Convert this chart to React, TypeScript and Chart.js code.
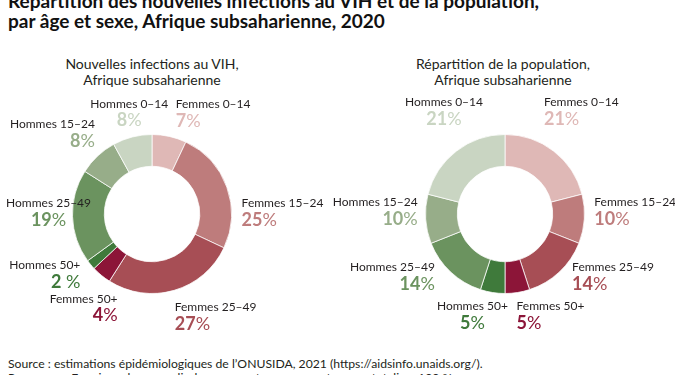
import React, { useEffect, useRef } from "react";
import { Chart, registerables } from "chart.js";

Chart.register(...registerables);

const categories = [
  "Femmes 0–14",
  "Femmes 15–24",
  "Femmes 25–49",
  "Femmes 50+",
  "Hommes 50+",
  "Hommes 25–49",
  "Hommes 15–24",
  "Hommes 0–14",
];
const infectionsValues = [7, 25, 27, 4, 2, 19, 8, 8];
const populationValues = [21, 10, 14, 5, 5, 14, 10, 21];
const infectionsPctLabels = ["7%", "25%", "27%", "4%", "2 %", "19%", "8%", "8%"];
const populationPctLabels = ["21%", "10%", "14%", "5%", "5%", "14%", "10%", "21%"];
const sliceColors = ["#dfb8b6", "#be7c7c", "#a74e55", "#8c1538", "#3f7a3b", "#6b935f", "#97ad89", "#c9d5c2"];

// label layout (alignment + nudges relative to arc mid-angle anchor)
const infectionsAlign = ["left", "left", "left", "right", "right", "center", "right", "center"];
const infectionsNudge = [[2, -13], [-4, 23], [-5, -2], [29, 8], [5, -12], [-4, -14], [11, -17], [2, -14]];
const populationAlign = ["left", "left", "left", "left", "center", "right", "right", "center"];
const populationNudge = [[-22, -33], [-10, -18], [-1, -19], [-4, -6], [-17, -6], [-2, -19], [12, -18], [0, -33]];

const FONT = "Lato, 'Open Sans', sans-serif";

const labelPlugin = {
  id: "sliceLabels",
  afterDraw(chart: any, _args: any, opts: any) {
    const ctx = chart.ctx;
    const meta = chart.getDatasetMeta(0);
    meta.data.forEach((arc: any, i: number) => {
      const p = arc.getProps(["x", "y", "startAngle", "endAngle", "outerRadius"], true);
      const mid = (p.startAngle + p.endAngle) / 2;
      const r = p.outerRadius + 20;
      const nudge = opts.nudge[i];
      const ax = p.x + Math.cos(mid) * r + nudge[0];
      const ay = p.y + Math.sin(mid) * r + nudge[1];
      const align = opts.align[i];
      ctx.save();
      ctx.textBaseline = "middle";
      ctx.font = `12px ${FONT}`;
      ctx.fillStyle = "#231f20";
      ctx.textAlign = align;
      ctx.fillText(opts.names[i], ax, ay);
      const pct: string = opts.pct[i];
      const num = pct.replace("%", "");
      const boldFont = `bold 18px ${FONT}`;
      const regFont = `18px ${FONT}`;
      ctx.font = boldFont;
      const wNum = ctx.measureText(num).width;
      ctx.font = regFont;
      const wPct = ctx.measureText("%").width;
      const total = wNum + wPct;
      let sx = ax;
      if (align === "right") sx = ax - total;
      else if (align === "center") sx = ax - total / 2;
      ctx.textAlign = "left";
      ctx.fillStyle = opts.colors[i];
      ctx.font = boldFont;
      ctx.fillText(num, sx, ay + 17);
      ctx.font = regFont;
      ctx.fillText("%", sx + wNum, ay + 17);
      ctx.restore();
    });
  },
};

function Donut(props: {
  values: number[];
  pct: string[];
  align: string[];
  nudge: number[][];
  padding: { left: number; right: number; top: number; bottom: number };
  style: React.CSSProperties;
}) {
  const ref = useRef<HTMLCanvasElement>(null);
  useEffect(() => {
    if (!ref.current) return;
    const chart = new Chart(ref.current, {
      type: "doughnut",
      data: {
        labels: categories,
        datasets: [
          {
            data: props.values,
            backgroundColor: sliceColors,
            borderColor: "rgba(255,255,255,0.75)",
            borderWidth: 1,
          },
        ],
      },
      options: {
        animation: false,
        responsive: false,
        cutout: "60%",
        layout: { padding: props.padding },
        plugins: {
          legend: { display: false },
          tooltip: { enabled: false },
          sliceLabels: {
            names: categories,
            pct: props.pct,
            align: props.align,
            nudge: props.nudge,
            colors: sliceColors,
          },
        } as any,
      },
      plugins: [labelPlugin],
    });
    return () => chart.destroy();
  }, []);
  const w = props.style.width as number;
  const h = props.style.height as number;
  return <canvas ref={ref} width={w} height={h} style={{ position: "absolute", ...props.style }} />;
}

export default function App() {
  return (
    <div
      style={{
        position: "fixed",
        left: 0,
        top: 0,
        width: 675,
        height: 375,
        overflow: "hidden",
        background: "#ffffff",
        fontFamily: FONT,
        color: "#231f20",
      }}
    >
      <div
        style={{
          position: "absolute",
          left: 8,
          top: -9,
          fontSize: 19,
          lineHeight: "20px",
          fontWeight: 700,
          color: "#111",
          whiteSpace: "nowrap",
        }}
      >
        Répartition des nouvelles infections au VIH et de la population,
        <br />
        par âge et sexe, Afrique subsaharienne, 2020
      </div>
      <div
        style={{
          position: "absolute",
          left: 0,
          width: 304,
          top: 56,
          textAlign: "center",
          fontSize: 14,
          lineHeight: "16px",
        }}
      >
        Nouvelles infections au VIH,
        <br />
        Afrique subsaharienne
      </div>
      <div
        style={{
          position: "absolute",
          left: 353,
          width: 300,
          top: 56,
          textAlign: "center",
          fontSize: 14,
          lineHeight: "16px",
        }}
      >
        Répartition de la population,
        <br />
        Afrique subsaharienne
      </div>
      <Donut
        values={infectionsValues}
        pct={infectionsPctLabels}
        align={infectionsAlign}
        nudge={infectionsNudge}
        padding={{ left: 72, right: 95, top: 49, bottom: 46 }}
        style={{ left: 0, top: 85, width: 327, height: 255 }}
      />
      <Donut
        values={populationValues}
        pct={populationPctLabels}
        align={populationAlign}
        nudge={populationNudge}
        padding={{ left: 105, right: 90, top: 49, bottom: 46 }}
        style={{ left: 320, top: 85, width: 355, height: 255 }}
      />
      <div
        style={{
          position: "absolute",
          left: 8,
          top: 357,
          fontSize: 12.2,
          lineHeight: "14px",
          color: "#231f20",
          whiteSpace: "nowrap",
        }}
      >
        Source : estimations épidémiologiques de l’ONUSIDA, 2021 (https://aidsinfo.unaids.org/).
        <br />
        Remarque : En raison des arrondis, les pourcentages peuvent ne pas totaliser 100 %.
      </div>
    </div>
  );
}
